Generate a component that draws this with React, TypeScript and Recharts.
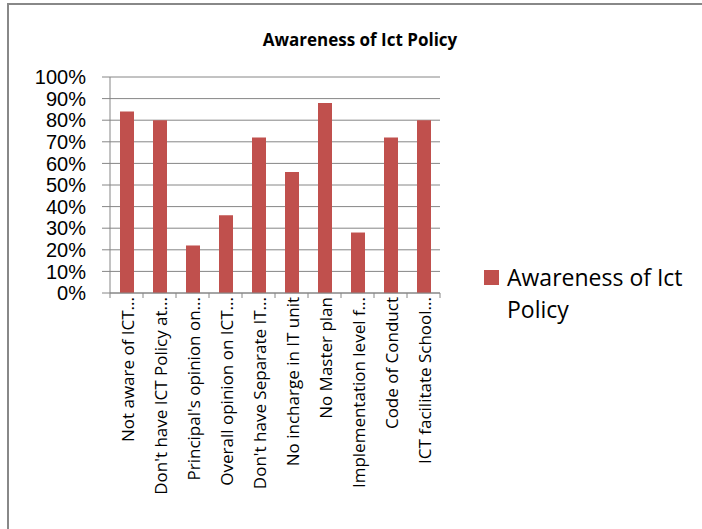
import React from "react";
import { BarChart, Bar, XAxis, YAxis, CartesianGrid, Legend } from "recharts";

const categories = [
  "Not aware of ICT...",
  "Don't have ICT Policy at...",
  "Principal's opinion on...",
  "Overall opinion on ICT...",
  "Don't have Separate IT...",
  "No incharge in IT unit",
  "No Master plan",
  "Implementation level f...",
  "Code of Conduct",
  "ICT facilitate School...",
];
const awareness = [0.84, 0.8, 0.22, 0.36, 0.72, 0.56, 0.88, 0.28, 0.72, 0.8];
const yTicks = [0, 0.1, 0.2, 0.3, 0.4, 0.5, 0.6, 0.7, 0.8, 0.9, 1];
const seriesName = "Awareness of Ict Policy";
const titleText = "Awareness of Ict Policy";

const data = categories.map((c, i) => ({ name: c, value: awareness[i] }));

const BAR_COLOR = "#C0504D";
const GRID = "#868686";

const XTick = (props: any) => {
  const { x, y, payload, index } = props;
  const half = payload && payload.offset ? payload.offset : 16.5;
  const isLast = index === categories.length - 1;
  return (
    <g>
      <line x1={x - half} y1={y} x2={x - half} y2={y + 5} stroke={GRID} />
      {isLast && <line x1={x + half} y1={y} x2={x + half} y2={y + 5} stroke={GRID} />}
      <text
        transform={`translate(${x + 7},${y + 4}) rotate(-90)`}
        textAnchor="end"
        fontFamily="'Open Sans', sans-serif"
        fontSize={17}
        fill="#000"
      >
        {payload.value}
      </text>
    </g>
  );
};

const LegendContent = () => (
  <div style={{ position: "relative", width: 210, height: 70 }}>
    <div
      style={{
        position: "absolute",
        left: 0,
        top: 9,
        width: 15,
        height: 15,
        background: BAR_COLOR,
      }}
    />
    <div
      style={{
        position: "absolute",
        left: 23,
        top: 0,
        fontFamily: "'Open Sans', sans-serif",
        fontSize: 23,
        lineHeight: "32px",
        color: "#000",
        whiteSpace: "nowrap",
        textAlign: "left",
      }}
    >
      <div>Awareness of Ict</div>
      <div>Policy</div>
    </div>
  </div>
);

export default function App() {
  return (
    <div
      style={{
        position: "fixed",
        left: 0,
        top: 0,
        width: 702,
        height: 529,
        overflow: "hidden",
        background: "#fff",
      }}
    >
      <div
        style={{
          position: "absolute",
          left: 7,
          top: 3,
          width: 800,
          height: 700,
          borderLeft: "2px solid #888",
          borderTop: "2px solid #888",
        }}
      />
      <div
        style={{
          position: "absolute",
          left: 0,
          top: 28,
          width: 720,
          textAlign: "center",
          fontFamily: "'Open Sans', sans-serif",
          fontWeight: 700,
          fontSize: 17,
          lineHeight: "23px",
          color: "#000",
        }}
      >
        {titleText}
      </div>
      <div style={{ position: "absolute", left: 0, top: 0 }}>
        <BarChart
          width={702}
          height={529}
          data={data}
          margin={{ top: 77, right: 262, bottom: 36, left: 0 }}
          barSize={14}
        >
          <CartesianGrid vertical={false} stroke={GRID} strokeWidth={1} />
          <YAxis
            width={110}
            domain={[0, 1]}
            ticks={yTicks}
            interval={0}
            tickFormatter={(v: number) => `${Math.round(v * 100)}%`}
            tickSize={8}
            tickMargin={16}
            axisLine={{ stroke: GRID }}
            tickLine={{ stroke: GRID }}
            tick={{ fill: "#000", fontSize: 20, fontFamily: "'Liberation Sans', Arial, sans-serif" }}
          />
          <XAxis
            dataKey="name"
            interval={0}
            height={200}
            axisLine={{ stroke: GRID }}
            tickLine={false}
            tickSize={0}
            tickMargin={0}
            tick={<XTick />}
          />
          <Legend
            verticalAlign="middle"
            align="center"
            layout="horizontal"
            wrapperStyle={{ position: "absolute", left: 484, top: 261, width: 210, height: 70 }}
            content={<LegendContent />}
          />
          <Bar dataKey="value" name={seriesName} fill={BAR_COLOR} isAnimationActive={false} />
        </BarChart>
      </div>
    </div>
  );
}
